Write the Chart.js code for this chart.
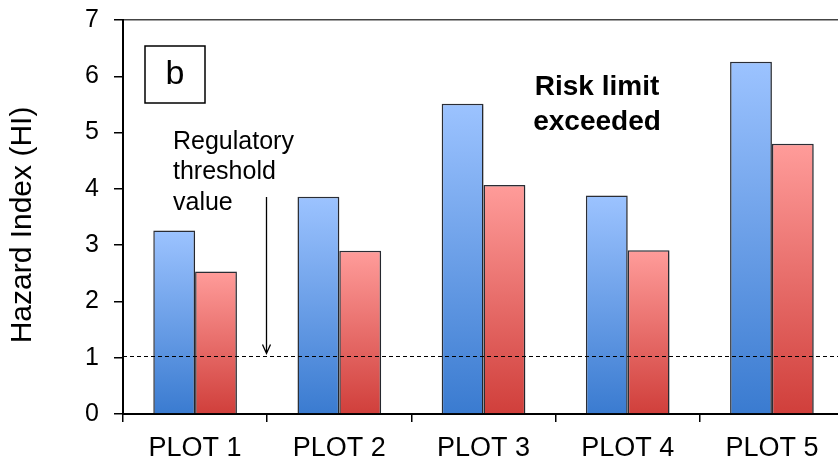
<!DOCTYPE html>
<html>
<head>
<meta charset="utf-8">
<script src="https://cdn.jsdelivr.net/npm/chart.js@4"></script>
<style>
  html, body { margin: 0; padding: 0; overflow: hidden; background: #fff; }
  canvas { display: block; }
</style>
</head>
<body>
<canvas id="hazardChart" width="844" height="467"></canvas>
<script>
const categories = ['PLOT 1', 'PLOT 2', 'PLOT 3', 'PLOT 4', 'PLOT 5'];
const blueValues = [3.26, 3.86, 5.51, 3.88, 6.26];
const redValues = [2.53, 2.90, 4.07, 2.91, 4.80];
const threshold = 1.03;
const yTicks = [0, 1, 2, 3, 4, 5, 6, 7];
const yTitle = 'Hazard Index (HI)';

const FONT = '"Liberation Sans", Arial, sans-serif';

// vertical gradient for each bar, light at the top, dark at the base
function barGradient(top, bottom) {
    return function (ctx) {
        const chart = ctx.chart;
        const y = chart.scales.y;
        if (!chart.chartArea || !y || ctx.raw == null) return bottom;
        const y0 = y.getPixelForValue(ctx.raw);
        const y1 = y.getPixelForValue(0);
        const g = chart.ctx.createLinearGradient(0, y0, 0, y1);
        g.addColorStop(0, top);
        g.addColorStop(1, bottom);
        return g;
    };
}

// soft shadow behind the bars
const shadowPlugin = {
    id: 'barShadow',
    beforeDatasetDraw(chart) {
        const c = chart.ctx;
        c.save();
        c.shadowColor = 'rgba(0,0,0,0.2)';
        c.shadowBlur = 3;
        c.shadowOffsetX = 2;
        c.shadowOffsetY = 1;
    },
    afterDatasetDraw(chart) {
        chart.ctx.restore();
    }
};

// threshold line, labels, arrow and axis title
const overlayPlugin = {
    id: 'overlay',
    afterDatasetsDraw(chart) {
        const c = chart.ctx;
        const area = chart.chartArea;
        const x = chart.scales.x;
        const y = chart.scales.y;
        c.save();

        // dashed regulatory threshold
        const ty = Math.round(y.getPixelForValue(threshold)) + 0.5;
        c.strokeStyle = '#000';
        c.lineWidth = 1;
        c.setLineDash([4, 3]);
        c.beginPath();
        c.moveTo(area.left, ty);
        c.lineTo(area.right, ty);
        c.stroke();
        c.setLineDash([]);

        // panel letter box
        c.lineWidth = 1.5;
        c.strokeStyle = '#000';
        c.strokeRect(area.left + 22, area.top + 26, 60, 57);
        c.fillStyle = '#000';
        c.font = '34px ' + FONT;
        c.textAlign = 'center';
        c.textBaseline = 'middle';
        c.fillText('b', area.left + 52, area.top + 55);

        // regulatory threshold label
        c.font = '25px ' + FONT;
        c.textAlign = 'left';
        c.fillText('Regulatory', area.left + 50, area.top + 122);
        c.fillText('threshold', area.left + 50, area.top + 152);
        c.fillText('value', area.left + 50, area.top + 183);

        // arrow to the threshold
        const ax = Math.round((x.getPixelForValue(0) + x.getPixelForValue(1)) / 2) - 0.5;
        const ay0 = area.top + 177;
        const ay1 = ty - 3;
        c.lineWidth = 1.3;
        c.beginPath();
        c.moveTo(ax, ay0);
        c.lineTo(ax, ay1);
        c.moveTo(ax - 4, ay1 - 9);
        c.lineTo(ax, ay1);
        c.lineTo(ax + 4, ay1 - 9);
        c.stroke();

        // risk limit note
        c.font = 'bold 28px ' + FONT;
        c.textAlign = 'center';
        c.fillText('Risk limit', 597, area.top + 67);
        c.fillText('exceeded', 597, area.top + 102);

        // y axis title
        c.translate(23, 225);
        c.rotate(-Math.PI / 2);
        c.font = '30px ' + FONT;
        c.fillText(yTitle, 0, 0);

        c.restore();
    }
};

const chart = new Chart(document.getElementById('hazardChart').getContext('2d'), {
    type: 'bar',
    data: {
        labels: categories,
        datasets: [
            {
                label: 'A',
                data: blueValues,
                backgroundColor: barGradient('#9cc3ff', '#3a7bd0'),
                borderColor: '#2b2e36',
                borderWidth: 1.5,
                categoryPercentage: 0.58,
                barPercentage: 1
            },
            {
                label: 'B',
                data: redValues,
                backgroundColor: barGradient('#ff9c9a', '#d03f3b'),
                borderColor: '#2b2e36',
                borderWidth: 1.5,
                categoryPercentage: 0.58,
                barPercentage: 1
            }
        ]
    },
    options: {
        responsive: false,
        animation: false,
        devicePixelRatio: 1,
        layout: { padding: { top: 20, left: 0, right: 0, bottom: 0 } },
        plugins: {
            legend: { display: false },
            tooltip: { enabled: false }
        },
        scales: {
            x: {
                offset: true,
                grid: {
                    offset: true,
                    drawOnChartArea: false,
                    color: '#000',
                    tickColor: '#000',
                    tickLength: 8,
                    lineWidth: 1.5
                },
                border: { color: '#000', width: 2 },
                ticks: {
                    color: '#000',
                    padding: 10,
                    font: { family: FONT, size: 27 }
                },
                afterFit(scale) {
                    scale.height = 53;
                    scale.paddingLeft = 0;
                    scale.paddingRight = 0;
                }
            },
            y: {
                min: 0,
                max: 7,
                afterBuildTicks(scale) {
                    scale.ticks = yTicks.map(v => ({ value: v }));
                },
                grid: {
                    color: ctx => ctx.tick && ctx.tick.value === 7 ? '#444' : 'rgba(0,0,0,0)',
                    tickColor: '#000',
                    tickLength: 9,
                    lineWidth: 1.5
                },
                border: { color: '#000', width: 2 },
                ticks: {
                    color: '#000',
                    padding: 15,
                    font: { family: FONT, size: 25 }
                },
                afterFit(scale) {
                    scale.width = 123;
                    scale.paddingTop = 0;
                    scale.paddingBottom = 0;
                }
            }
        }
    },
    plugins: [shadowPlugin, overlayPlugin]
});
</script>
</body>
</html>
